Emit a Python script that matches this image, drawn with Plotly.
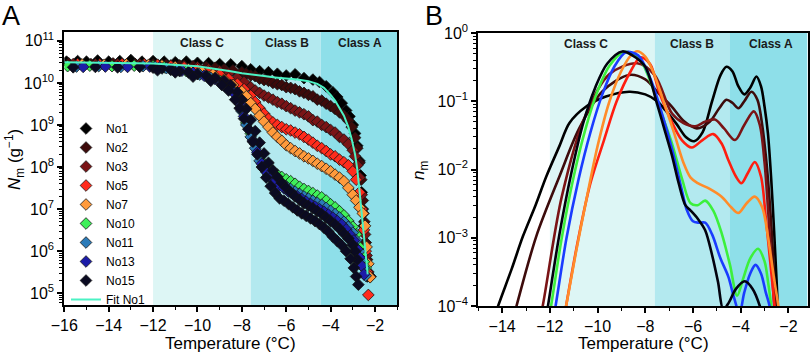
import plotly.graph_objects as go

# ---------------- Panel A data (temperature in °C, N_m in g^-1) ----------------
t_no1 = [-15.9, -15.4, -15, -14.5, -14, -13.5, -13, -12.5, -12, -11.5, -11, -10.5, -10, -9.5, -9, -8.5, -8, -7.6, -7.2, -6.8, -6.4, -6.0, -5.6, -5.2, -4.8, -4.5, -4.2, -3.9, -3.7, -3.5, -3.3, -3.15, -3.0, -2.9, -2.8, -2.7, -2.65, -2.6, -2.55, -2.5, -2.45, -2.4, -2.35]
n_no1 = [3.2e10, 3.3e10, 3.2e10, 3.4e10, 3.2e10, 3.3e10, 3.5e10, 3.2e10, 3.3e10, 3.2e10, 3.1e10, 3.2e10, 3.0e10, 2.95e10, 2.8e10, 2.75e10, 2.5e10, 2.1e10, 1.9e10, 1.8e10, 1.65e10, 1.5e10, 1.6e10, 1.3e10, 1.2e10, 1.05e10, 8.3e9, 6.0e9, 4.6e9, 3.3e9, 2.2e9, 1.6e9, 1.0e9, 6.3e8, 3.2e8, 1.4e8, 6.3e7, 2.5e7, 1.0e7, 4.0e6, 1.6e6, 6.3e5, 2.5e5]

t_no2 = [-15.8, -14.8, -13.8, -12.8, -12, -11.4, -10.8, -10.2, -9.6, -9.2, -8.8, -8.4, -8.0, -7.8, -7.6, -7.4, -7.2, -7.0, -6.8, -6.6, -6.4, -6.2, -6.0, -5.8, -5.6, -5.4, -5.2, -5.0, -4.8, -4.6, -4.4, -4.2, -4.0, -3.8, -3.6, -3.4, -3.2, -3.05, -2.9, -2.8, -2.7, -2.62, -2.55, -2.48, -2.42, -2.36, -2.3, -2.2]
n_no2 = [2.9e10, 2.8e10, 2.9e10, 2.8e10, 2.75e10, 2.7e10, 2.6e10, 2.5e10, 2.4e10, 2.3e10, 2.1e10, 2.0e10, 1.8e10, 1.65e10, 1.5e10, 1.45e10, 1.26e10, 1.17e10, 1.12e10, 1.0e10, 9.3e9, 8.9e9, 7.9e9, 7.6e9, 7.1e9, 6.3e9, 5.8e9, 5.2e9, 4.8e9, 4.0e9, 3.8e9, 3.2e9, 2.8e9, 2.4e9, 2.0e9, 1.66e9, 1.26e9, 8.9e8, 5.0e8, 2.8e8, 1.26e8, 5.0e7, 1.6e7, 5.0e6, 1.6e6, 6.3e5, 2.8e5, 2.5e5]

t_no3 = [-15.6, -14.6, -13.6, -12.6, -11.8, -11.2, -10.6, -10.0, -9.5, -9.0, -8.6, -8.2, -7.9, -7.6, -7.4, -7.2, -7.0, -6.8, -6.6, -6.4, -6.2, -6.0, -5.8, -5.6, -5.4, -5.2, -5.0, -4.8, -4.6, -4.4, -4.2, -4.0, -3.8, -3.6, -3.4, -3.2, -3.0, -2.9, -2.8, -2.7, -2.6, -2.52, -2.45, -2.38, -2.3]
n_no3 = [2.8e10, 2.75e10, 2.8e10, 2.75e10, 2.7e10, 2.6e10, 2.5e10, 2.35e10, 2.1e10, 1.9e10, 1.65e10, 1.3e10, 1.05e10, 7.9e9, 6.6e9, 5.8e9, 5.0e9, 4.5e9, 4.0e9, 3.5e9, 3.2e9, 2.8e9, 2.5e9, 2.2e9, 2.0e9, 1.8e9, 1.6e9, 1.3e9, 1.2e9, 1.0e9, 8.9e8, 7.6e8, 6.6e8, 5.2e8, 4.5e8, 3.5e8, 2.5e8, 1.8e8, 1.1e8, 5.6e7, 2.2e7, 7.9e6, 2.5e6, 7.9e5, 3.2e5]

t_no5 = [-15.4, -14.4, -13.4, -12.4, -11.8, -11.2, -10.6, -10.0, -9.5, -9.0, -8.6, -8.2, -7.9, -7.6, -7.4, -7.2, -7.0, -6.8, -6.6, -6.4, -6.2, -6.0, -5.8, -5.6, -5.4, -5.2, -5.0, -4.8, -4.6, -4.4, -4.2, -4.0, -3.8, -3.6, -3.4, -3.2, -3.0, -2.85, -2.7, -2.6, -2.5, -2.42, -2.36, -2.3]
n_no5 = [2.8e10, 2.75e10, 2.8e10, 2.75e10, 2.7e10, 2.5e10, 2.35e10, 2.1e10, 1.85e10, 1.6e10, 1.26e10, 9.5e9, 7.1e9, 5.0e9, 3.5e9, 2.5e9, 1.86e9, 1.4e9, 1.15e9, 1.0e9, 8.9e8, 7.9e8, 7.4e8, 6.6e8, 6.0e8, 5.2e8, 4.5e8, 3.8e8, 3.2e8, 2.8e8, 2.4e8, 2.0e8, 1.8e8, 1.5e8, 1.3e8, 1.1e8, 7.9e7, 5.0e7, 2.5e7, 1.0e7, 3.2e6, 1.0e6, 3.2e5, 9.1e4]

t_no7 = [-15.2, -14.2, -13.2, -12.2, -11.6, -11.0, -10.4, -9.8, -9.3, -8.8, -8.4, -8.0, -7.8, -7.6, -7.4, -7.2, -7.0, -6.8, -6.6, -6.4, -6.2, -6.0, -5.8, -5.6, -5.4, -5.2, -5.0, -4.8, -4.6, -4.4, -4.2, -4.0, -3.8, -3.6, -3.4, -3.2, -3.0, -2.85, -2.7, -2.55, -2.45, -2.38, -2.3, -2.22]
n_no7 = [2.75e10, 2.7e10, 2.75e10, 2.7e10, 2.6e10, 2.4e10, 2.1e10, 1.86e10, 1.6e10, 1.2e10, 8.9e9, 6.3e9, 4.8e9, 3.3e9, 2.4e9, 1.66e9, 1.2e9, 8.9e8, 6.6e8, 5.2e8, 4.2e8, 3.3e8, 2.8e8, 2.4e8, 2.1e8, 1.8e8, 1.6e8, 1.4e8, 1.2e8, 1.05e8, 9.1e7, 7.9e7, 6.6e7, 5.6e7, 4.6e7, 3.2e7, 2.2e7, 1.6e7, 1.1e7, 7.9e6, 4.0e6, 1.26e6, 5.0e5, 2.4e5]

t_no10 = [-15.85, -14.85, -13.85, -12.85, -12.0, -11.5, -11.0, -10.5, -10.0, -9.5, -9.0, -8.6, -8.2, -8.0, -7.8, -7.6, -7.4, -7.2, -7.0, -6.8, -6.6, -6.4, -6.2, -6.0, -5.8, -5.6, -5.4, -5.2, -5.0, -4.8, -4.6, -4.4, -4.2, -4.0, -3.8, -3.6, -3.4, -3.2, -3.0, -2.85, -2.7, -2.6, -2.5, -2.42]
n_no10 = [2.5e10, 2.57e10, 2.5e10, 2.57e10, 2.5e10, 2.35e10, 2.1e10, 1.9e10, 1.66e10, 1.4e10, 1.12e10, 7.6e9, 4.0e9, 2.2e9, 1.12e9, 6.3e8, 3.5e8, 1.8e8, 1.2e8, 9.5e7, 7.9e7, 6.6e7, 5.8e7, 5.1e7, 4.6e7, 4.0e7, 3.4e7, 3.0e7, 2.7e7, 2.4e7, 2.1e7, 1.9e7, 1.6e7, 1.3e7, 1.1e7, 8.9e6, 7.1e6, 5.2e6, 3.8e6, 2.5e6, 1.26e6, 8.3e5, 5.6e5, 4.0e5]

t_no11 = [-15.45, -14.45, -13.45, -12.45, -11.9, -11.4, -10.9, -10.4, -9.9, -9.4, -8.9, -8.5, -8.2, -8.0, -7.8, -7.6, -7.4, -7.2, -7.0, -6.8, -6.6, -6.4, -6.2, -6.0, -5.8, -5.6, -5.4, -5.2, -5.0, -4.8, -4.6, -4.4, -4.2, -4.0, -3.8, -3.6, -3.4, -3.2, -3.0, -2.85, -2.7, -2.6, -2.5, -2.42]
n_no11 = [2.45e10, 2.5e10, 2.4e10, 2.5e10, 2.4e10, 2.24e10, 2.04e10, 1.82e10, 1.58e10, 1.32e10, 1.05e10, 7.2e9, 3.8e9, 2.1e9, 1.0e9, 5.2e8, 2.8e8, 1.4e8, 8.9e7, 6.6e7, 5.5e7, 4.7e7, 4.0e7, 3.5e7, 3.0e7, 2.6e7, 2.3e7, 2.0e7, 1.78e7, 1.58e7, 1.41e7, 1.26e7, 1.07e7, 9.1e6, 7.6e6, 6.3e6, 5.0e6, 3.8e6, 2.75e6, 1.8e6, 1.0e6, 6.3e5, 4.0e5, 2.6e5]

t_no13 = [-15.15, -14.15, -13.15, -12.15, -11.7, -11.2, -10.7, -10.2, -9.7, -9.2, -8.8, -8.4, -8.1, -7.9, -7.7, -7.5, -7.3, -7.1, -6.9, -6.7, -6.5, -6.3, -6.1, -5.9, -5.7, -5.5, -5.3, -5.1, -4.9, -4.7, -4.5, -4.3, -4.1, -3.9, -3.7, -3.5, -3.3, -3.1, -2.95, -2.8, -2.7, -2.6, -2.5]
n_no13 = [2.4e10, 2.45e10, 2.4e10, 2.45e10, 2.35e10, 2.14e10, 1.95e10, 1.74e10, 1.48e10, 1.23e10, 9.5e9, 6.0e9, 3.2e9, 1.6e9, 7.9e8, 4.2e8, 2.24e8, 1.2e8, 7.6e7, 5.5e7, 4.4e7, 3.6e7, 3.1e7, 2.6e7, 2.3e7, 2.0e7, 1.74e7, 1.5e7, 1.32e7, 1.15e7, 1.0e7, 8.7e6, 7.4e6, 6.3e6, 5.2e6, 4.3e6, 3.3e6, 2.4e6, 1.8e6, 1.12e6, 7.1e5, 4.5e5, 2.8e5]

t_no15_a = [-15.6, -14.6, -13.6, -12.6, -12.0, -11.6, -11.2, -10.8, -10.4, -10.0, -9.6, -9.2, -8.8, -8.5, -8.2, -8.0, -7.8, -7.6, -7.4, -7.2, -7.0, -6.8, -6.6, -6.4, -6.2, -6.0, -5.8, -5.6, -5.4, -5.2, -5.0, -4.8, -4.6, -4.4, -4.2, -4.0, -3.8, -3.6, -3.4, -3.2, -3.0, -2.9, -2.8]
n_no15_a = [2.35e10, 2.4e10, 2.35e10, 2.4e10, 2.3e10, 2.2e10, 2.04e10, 1.9e10, 1.78e10, 1.62e10, 1.48e10, 1.32e10, 1.12e10, 8.9e9, 6.0e9, 4.0e9, 2.4e9, 1.32e9, 7.1e8, 3.8e8, 2.1e8, 1.26e8, 8.3e7, 5.8e7, 4.2e7, 3.2e7, 2.5e7, 2.0e7, 1.66e7, 1.38e7, 1.2e7, 1.05e7, 8.9e6, 7.6e6, 6.3e6, 5.2e6, 4.3e6, 3.4e6, 2.6e6, 2.0e6, 1.41e6, 1.0e6, 6.3e5]
t_no15_b = [-11.8, -11.0, -10.2, -9.4, -8.9, -8.6, -8.3, -8.1, -7.9, -7.7, -7.5, -7.3, -7.1, -6.9, -6.7, -6.5, -6.3, -6.1, -5.9, -5.7, -5.5, -5.3, -5.1, -4.9, -4.7, -4.5, -4.3, -4.1, -3.9, -3.7, -3.5, -3.3, -3.1, -2.95, -2.85, -2.75]
n_no15_b = [2.0e10, 1.78e10, 1.41e10, 1.12e10, 8.9e9, 6.6e9, 4.0e9, 2.5e9, 1.41e9, 7.9e8, 4.0e8, 2.0e8, 1.0e8, 5.6e7, 3.5e7, 2.4e7, 1.8e7, 1.58e7, 1.32e7, 1.1e7, 9.3e6, 7.9e6, 6.9e6, 6.0e6, 5.2e6, 4.4e6, 3.6e6, 2.9e6, 2.2e6, 1.74e6, 1.38e6, 1.0e6, 6.6e5, 4.0e5, 2.5e5, 1.6e5]

fit_t = [-16, -14, -12, -10, -9, -8.5, -8, -7.5, -7, -6.5, -6, -5.5, -5, -4.6, -4.3, -4.0, -3.8, -3.6, -3.4, -3.2, -3.05, -2.9, -2.8, -2.7, -2.6, -2.5, -2.4, -2.33]
fit_n = [3.1e10, 3.0e10, 2.9e10, 2.5e10, 2.14e10, 1.9e10, 1.7e10, 1.55e10, 1.45e10, 1.35e10, 1.29e10, 1.2e10, 1.1e10, 9.5e9, 7.6e9, 5.2e9, 3.8e9, 2.6e9, 1.66e9, 8.9e8, 4.6e8, 2.0e8, 8.9e7, 2.8e7, 7.9e6, 2.0e6, 5.6e5, 2.8e5]

names_a = ["No1", "No2", "No3", "No5", "No7", "No10", "No11", "No13", "No15"]
colors_a = ["#000000", "#3d0b0b", "#7a1416", "#ff2b1c", "#ff9a3c", "#3ff05a", "#2b7bb9", "#1c1ca8", "#0b0b22"]
temps_a = [t_no1, t_no2, t_no3, t_no5, t_no7, t_no10, t_no11, t_no13, t_no15_a + t_no15_b]
vals_a = [n_no1, n_no2, n_no3, n_no5, n_no7, n_no10, n_no11, n_no13, n_no15_a + n_no15_b]

# ---------------- Panel B data (n_m curves) ----------------
b_no1_t = [-14.5, -14.17, -13.6, -13.13, -12.6, -12.15, -11.6, -11.18, -10.49, -9.65, -8.68, -8.0, -7.5, -7.16, -6.7, -6.3, -5.95, -5.6, -5.2, -4.85, -4.6, -4.35, -4.1, -3.85, -3.6, -3.34, -3.15, -3.0, -2.86, -2.72, -2.6, -2.5, -2.42]
b_no1_n = [4.5e-5, 1e-4, 3.5e-4, 1.05e-3, 3.0e-3, 7.9e-3, 0.022, 0.048, 0.083, 0.117, 0.138, 0.126, 0.1, 0.074, 0.047, 0.03, 0.026, 0.035, 0.1, 0.24, 0.32, 0.275, 0.166, 0.126, 0.158, 0.23, 0.166, 0.083, 0.034, 7.1e-3, 1.26e-3, 2.5e-4, 6.3e-5]
b_no2_t = [-13.7, -13.4, -12.57, -11.6, -10.77, -9.79, -8.68, -8.0, -7.4, -6.88, -6.4, -5.84, -5.3, -4.9, -4.6, -4.35, -4.1, -3.85, -3.55, -3.3, -3.1, -2.93, -2.78, -2.65, -2.52]
b_no2_n = [4.0e-5, 1e-4, 1.05e-3, 7.9e-3, 0.04, 0.141, 0.243, 0.209, 0.126, 0.083, 0.052, 0.04, 0.05, 0.079, 0.105, 0.095, 0.079, 0.1, 0.138, 0.105, 0.045, 0.0138, 3.2e-3, 6.3e-4, 7.9e-5]
b_no3_t = [-12.6, -12.3, -11.5, -10.5, -9.5, -8.34, -7.6, -6.88, -6.4, -5.91, -5.5, -5.08, -4.7, -4.24, -3.85, -3.45, -3.2, -3.0, -2.85, -2.7, -2.58]
b_no3_n = [3.2e-5, 1e-4, 4.0e-3, 0.063, 0.25, 0.36, 0.24, 0.066, 0.048, 0.043, 0.05, 0.054, 0.04, 0.027, 0.045, 0.071, 0.045, 0.0126, 2.5e-3, 4.0e-4, 7.9e-5]
b_no5_t = [-11.6, -11.32, -10.8, -10.3, -9.73, -9.2, -8.6, -8.2, -7.8, -7.44, -7.0, -6.47, -6.05, -5.6, -5.15, -4.8, -4.52, -4.2, -3.97, -3.7, -3.41, -3.15, -2.95, -2.75, -2.58, -2.5]
b_no5_n = [2.5e-5, 1e-4, 1e-3, 6.3e-3, 0.027, 0.1, 0.28, 0.44, 0.35, 0.145, 0.06, 0.027, 0.021, 0.027, 0.033, 0.024, 0.0138, 7.9e-3, 6.3e-3, 8.9e-3, 0.0129, 7.9e-3, 2.0e-3, 4.0e-4, 1e-4, 4.0e-5]
b_no7_t = [-11.6, -11.32, -10.9, -10.5, -10.0, -9.5, -9.0, -8.6, -8.34, -8.0, -7.65, -7.3, -6.8, -6.4, -6.1, -5.8, -5.3, -4.8, -4.4, -4.1, -3.75, -3.41, -3.1, -2.85, -2.6, -2.42, -2.35]
b_no7_n = [3.2e-5, 1e-4, 6.3e-4, 3.2e-3, 0.022, 0.1, 0.28, 0.47, 0.54, 0.45, 0.26, 0.117, 0.035, 0.0126, 7.6e-3, 6.3e-3, 5.2e-3, 4.0e-3, 2.8e-3, 2.3e-3, 3.2e-3, 4.0e-3, 2.8e-3, 1.0e-3, 2.5e-4, 1e-4, 6.3e-5]
b_no10_t = [-12.2, -11.95, -11.5, -11.0, -10.5, -10.0, -9.5, -8.9, -8.3, -7.8, -7.3, -6.88, -6.45, -6.1, -5.8, -5.49, -5.15, -4.8, -4.45, -4.15, -3.9, -3.6, -3.27, -3.0, -2.85, -2.72, -2.6]
b_no10_n = [3.2e-5, 1e-4, 1e-3, 7.9e-3, 0.04, 0.141, 0.33, 0.525, 0.45, 0.2, 0.063, 0.024, 7.1e-3, 3.2e-3, 3.0e-3, 3.5e-3, 2.5e-3, 1.17e-3, 4.0e-4, 1.41e-4, 2.5e-4, 5.0e-4, 6.9e-4, 4.5e-4, 2.2e-4, 1e-4, 4.0e-5]
b_no13_t = [-12.0, -11.76, -11.3, -10.8, -10.3, -9.8, -9.3, -8.8, -8.3, -7.8, -7.3, -6.87, -6.5, -6.25, -6.0, -5.75, -5.49, -5.2, -4.85, -4.52, -4.3, -4.05, -3.85, -3.6, -3.38, -3.15, -2.95, -2.79, -2.65]
b_no13_n = [3.2e-5, 1e-4, 1e-3, 7.1e-3, 0.035, 0.126, 0.32, 0.525, 0.47, 0.22, 0.066, 0.0195, 5.6e-3, 2.5e-3, 1.74e-3, 1.66e-3, 1.66e-3, 1.12e-3, 5.0e-4, 2.7e-4, 1.41e-4, 7.9e-5, 1.58e-4, 3.0e-4, 4.0e-4, 3.0e-4, 1.58e-4, 1e-4, 4.0e-5]
b_no15_t = [-12.3, -12.08, -11.6, -11.1, -10.6, -10.1, -9.6, -8.96, -8.4, -7.99, -7.5, -7.16, -6.88, -6.6, -6.32, -6.1, -5.8, -5.49, -5.2, -4.95, -4.73, -4.5, -4.2, -3.83, -3.5, -3.2, -3.0]
b_no15_n = [3.2e-5, 1e-4, 1.12e-3, 8.9e-3, 0.048, 0.158, 0.355, 0.537, 0.437, 0.316, 0.09, 0.035, 0.016, 6.3e-3, 3.0e-3, 2.5e-3, 1.9e-3, 1.29e-3, 5.6e-4, 2.24e-4, 8.9e-5, 1.12e-4, 1.78e-4, 2.3e-4, 1.78e-4, 1e-4, 5.0e-5]

colors_b = ["#000000", "#3d0b0b", "#7a1416", "#ff1e10", "#ff8c2a", "#3cf03c", "#1a3cff", "#02020e"]
temps_b = [b_no1_t, b_no2_t, b_no3_t, b_no5_t, b_no7_t, b_no10_t, b_no13_t, b_no15_t]
vals_b = [b_no1_n, b_no2_n, b_no3_n, b_no5_n, b_no7_n, b_no10_n, b_no13_n, b_no15_n]

for a, b in zip(temps_a + temps_b + [fit_t], vals_a + vals_b + [fit_n]):
    assert len(a) == len(b), (len(a), len(b))

# class bands
band_edges = [-12, -7.6, -4.45]
band_colors = ["#ddf6f5", "#b3e9ef", "#8edfe9"]
class_names = ["Class C", "Class B", "Class A"]

FONT = "Liberation Sans, Arial, sans-serif"
W, H = 810, 359


def fx(xp):
    return xp / W


def fy(yp):
    return (H - yp) / H


fig = go.Figure()

for name, t, n, col in zip(names_a, temps_a, vals_a, colors_a):
    fig.add_trace(go.Scatter(
        x=t, y=n, mode="markers", name=name, xaxis="x", yaxis="y",
        marker=dict(symbol="diamond", size=9, color=col, line=dict(color="#141414", width=0.8))))
fig.add_trace(go.Scatter(x=fit_t, y=fit_n, mode="lines", name="Fit No1", xaxis="x", yaxis="y",
                         line=dict(color="#4cf2c4", width=2)))

for t, n, col in zip(temps_b, vals_b, colors_b):
    fig.add_trace(go.Scatter(x=t, y=n, mode="lines", showlegend=False, xaxis="x2", yaxis="y2",
                             line=dict(color=col, width=2.6, shape="spline", smoothing=0.9)))

shapes = []
for xref, xmax in (("x", -1.0), ("x2", -1.2)):
    edges = band_edges + [xmax]
    for i in range(3):
        shapes.append(dict(type="rect", xref=xref, yref=("y domain" if xref == "x" else "y2 domain"),
                           x0=edges[i], x1=edges[i + 1], y0=0, y1=1, fillcolor=band_colors[i],
                           line=dict(width=0), layer="below"))

annotations = []
for xr, yr, xs in (("x", "y domain", [-9.8, -5.95, -2.68]), ("x2", "y2 domain", [-10.5, -6.05, -2.72])):
    for name, xv in zip(class_names, xs):
        annotations.append(dict(text="<b>%s</b>" % name, x=xv, y=0.958, xref=xr, yref=yr, showarrow=False,
                                font=dict(size=12, color="#1a1a1a", family=FONT), xanchor="center", yanchor="middle"))


def ann(text, xp, yp, size, angle=0):
    return dict(text=text, x=fx(xp), y=fy(yp), xref="paper", yref="paper", showarrow=False, textangle=angle,
                font=dict(size=size, family=FONT, color="black"), xanchor="center", yanchor="middle")


annotations += [
    ann("A", 11, 16, 27),
    ann("B", 434, 16, 27),
    ann("<i>N</i><sub>m</sub> (g<sup>−1</sup>)", 14, 160, 17, -90),
    ann("<i>n</i><sub>m</sub>", 420, 171, 17, -90),
    ann("Temperature (°C)", 230, 343, 17),
    ann("Temperature (°C)", 643, 343, 17),
]

axis_common = dict(showline=True, linewidth=2, linecolor="black", mirror=True, showgrid=False, zeroline=False,
                   ticks="outside", ticklen=5, tickwidth=1.5, tickcolor="black", automargin=False,
                   tickfont=dict(size=16, family=FONT, color="black"))

ya_ticks = [1e5, 1e6, 1e7, 1e8, 1e9, 1e10, 1e11]
ya_text = ["10<sup>5</sup>", "10<sup>6</sup>", "10<sup>7</sup>", "10<sup>8</sup>", "10<sup>9</sup>", "10<sup>10</sup>", "10<sup>11</sup>"]
yb_ticks = [1e-4, 1e-3, 1e-2, 1e-1, 1]
yb_text = ["10<sup>−4</sup>", "10<sup>−3</sup>", "10<sup>−2</sup>", "10<sup>−1</sup>", "10<sup>0</sup>"]
minor_a = [m * 10.0 ** e for e in range(4, 12) for m in range(2, 10)]
minor_b = [m * 10.0 ** e for e in range(-5, 0) for m in range(2, 10)]

fig.update_layout(
    width=W, height=H, autosize=False,
    margin=dict(l=0, r=0, t=0, b=0, pad=0, autoexpand=False),
    paper_bgcolor="white", plot_bgcolor="white",
    font=dict(family=FONT, size=16, color="black"),
    xaxis=dict(domain=[fx(64.3), fx(397.2)], range=[-16, -1], dtick=2, tick0=0, anchor="y",
               minor=dict(dtick=1, tick0=0, ticks="outside", ticklen=3, tickwidth=1.2, tickcolor="black"),
               **axis_common),
    yaxis=dict(domain=[fy(305), fy(32)], type="log", range=[4.72, 11.21], anchor="x",
               tickmode="array", tickvals=ya_ticks, ticktext=ya_text,
               minor=dict(tickmode="array", tickvals=minor_a, ticks="outside", ticklen=3, tickwidth=1, tickcolor="black"),
               **axis_common),
    xaxis2=dict(domain=[fx(478.3), fx(807.5)], range=[-15, -1.2], dtick=2, tick0=0, anchor="y2",
                minor=dict(dtick=1, tick0=0, ticks="outside", ticklen=3, tickwidth=1.2, tickcolor="black"),
                **axis_common),
    yaxis2=dict(domain=[fy(306), fy(33)], type="log", range=[-4, 0], anchor="x2",
                tickmode="array", tickvals=yb_ticks, ticktext=yb_text,
                minor=dict(tickmode="array", tickvals=minor_b, ticks="outside", ticklen=3, tickwidth=1, tickcolor="black"),
                **axis_common),
    legend=dict(x=fx(66), y=fy(114), xanchor="left", yanchor="top", bgcolor="rgba(0,0,0,0)",
                font=dict(size=12, family=FONT, color="black"), borderwidth=0),
    shapes=shapes, annotations=annotations,
)

fig.write_html("out.html", config={"displayModeBar": False, "staticPlot": False},
               post_script="document.body.style.margin='0px';document.body.style.overflow='hidden';")
